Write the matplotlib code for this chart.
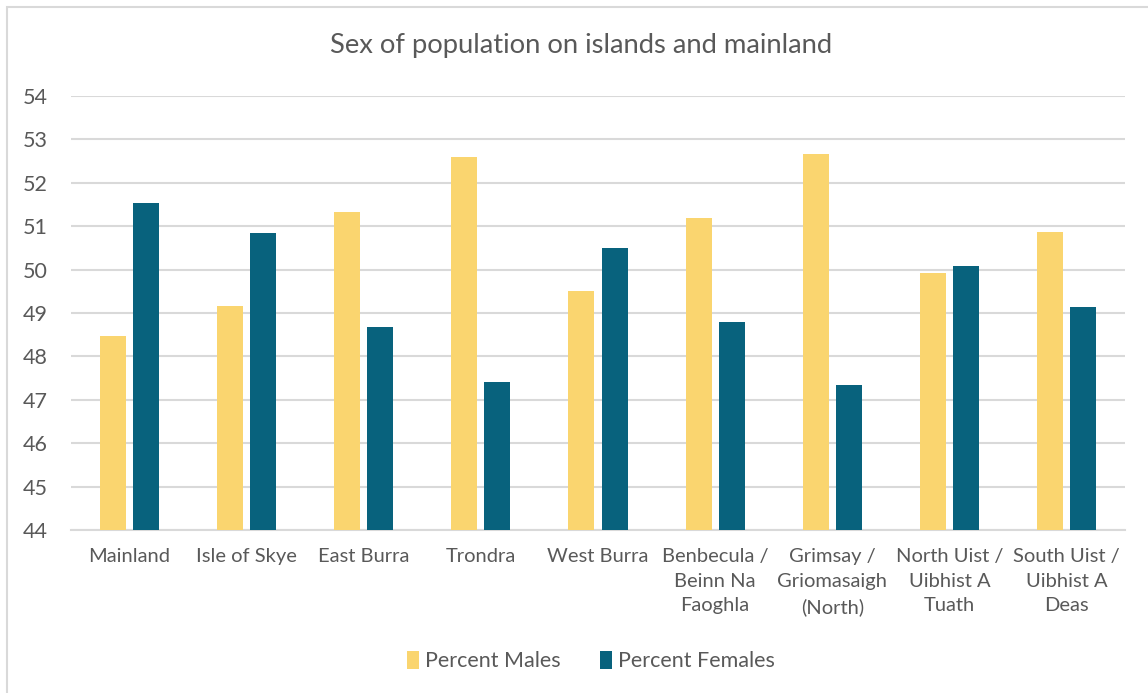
import numpy as np
import matplotlib.pyplot as plt
from matplotlib.patches import Rectangle

### Data
places = ["Mainland", "Isle of Skye", "East Burra", "Trondra", "West Burra",
          "Benbecula /\nBeinn Na\nFaoghla", "Grimsay /\nGriomasaigh\n(North)",
          "North Uist /\nUibhist A\nTuath", "South Uist /\nUibhist A\nDeas"]
pct_males = [48.47, 49.16, 51.32, 52.59, 49.51, 51.20, 52.66, 49.92, 50.86]
pct_females = [51.53, 50.84, 48.68, 47.41, 50.49, 48.80, 47.34, 50.08, 49.14]

### Style
plt.rcParams['font.family'] = ['Lato', 'DejaVu Sans']
grey_text = "#595959"
grid_col = "#D9D9D9"
yellow = "#FAD56F"
teal = "#08627D"

fig = plt.figure(figsize=(11.48, 6.93), dpi=100)
W, H = 1148, 693
ax = fig.add_axes([71 / W, 1 - 530 / H, (1125 - 71) / W, (530 - 96) / H])

### Bars
x = np.arange(len(places))
w = 0.222
ax.bar(x - 0.141, np.array(pct_males) - 44, w, bottom=44, color=yellow,
       label="Percent Males", zorder=3)
ax.bar(x + 0.141, np.array(pct_females) - 44, w, bottom=44, color=teal,
       label="Percent Females", zorder=3)

### Axes
ax.set_xlim(-0.5, len(places) - 0.5)
ax.set_ylim(44, 54)
ax.set_yticks(np.arange(44, 55, 1))
ax.yaxis.grid(True, color=grid_col, linewidth=1.5, zorder=0)
for s in ["top", "right", "left"]:
    ax.spines[s].set_visible(False)
ax.spines["bottom"].set_color(grid_col)
ax.spines["bottom"].set_linewidth(1.5)
ax.tick_params(axis="both", length=0, colors=grey_text)
ax.tick_params(axis="y", pad=17, labelsize=15.5)
ax.tick_params(axis="x", pad=13, labelsize=14.5)
ax.set_xticks(x)
ax.set_xticklabels(places, linespacing=1.55)

### Title and legend
fig.text(581 / W, 1 - 45 / H, "Sex of population on islands and mainland",
         ha="center", va="center", fontsize=19.7, color=grey_text)
fig.legend(loc="center", bbox_to_anchor=(591 / W, 1 - 661 / H), ncol=2,
           frameon=False, fontsize=15.5, handlelength=0.55, handleheight=0.9,
           handletextpad=0.3, columnspacing=1.8, labelcolor=grey_text)

### Chart border
fig.patches.append(Rectangle((7 / W, -0.05), 1.1, 1 - 7 / H + 0.05,
                             transform=fig.transFigure, fill=False,
                             edgecolor=grid_col, linewidth=1.5))

fig.savefig("out.png", dpi=100)
